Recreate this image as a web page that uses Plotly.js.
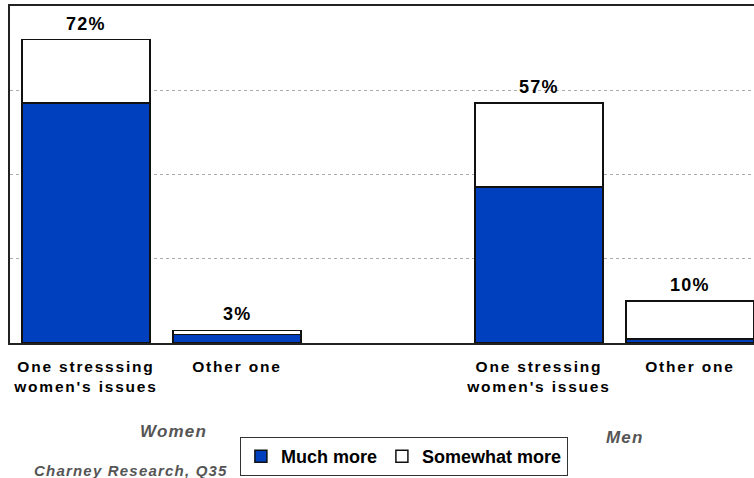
<!DOCTYPE html>
<html>
<head>
<meta charset="utf-8">
<script src="https://cdn.plot.ly/plotly-3.0.1.min.js"></script>
<style>
  html, body { margin: 0; padding: 0; background: #fff; }
  #chart { width: 754px; height: 478px; }
  .xtick text { letter-spacing: 1.8px; }
  .annotation-text { letter-spacing: 1.2px; }
</style>
</head>
<body>
<div id="chart"></div>
<script>
// Slot positions (slot 2 is left empty to separate Women and Men)
const positions = [0, 1, 3, 4];
const categoryLabels = [
  "One stresssing<br>women's issues",
  "Other one",
  "One stressing<br>women's issues",
  "Other one"
];
const muchMore = [57, 2, 37, 1];
const somewhatMore = [15, 1, 20, 9];
const groupLabels = ["Women", "Men"];
const sourceNote = "Charney Research, Q35";

const totals = muchMore.map((v, i) => v + somewhatMore[i]);

const BLUE = "#0040BF";
const FONT = "Liberation Sans, Arial, sans-serif";

const traces = [
  {
    type: "bar",
    name: "Much more",
    x: positions,
    y: muchMore,
    width: 0.85,
    marker: { color: BLUE, line: { color: "#111", width: 1.5 } },
    hoverinfo: "skip"
  },
  {
    type: "bar",
    name: "Somewhat more",
    x: positions,
    y: somewhatMore,
    width: 0.85,
    marker: { color: "#ffffff", line: { color: "#111", width: 1.5 } },
    hoverinfo: "skip"
  }
];

// Total labels above each stack
const annotations = positions.map((p, i) => ({
  x: p, y: totals[i], xref: "x", yref: "y",
  text: "<b>" + totals[i] + "%</b>",
  showarrow: false, yanchor: "bottom", yshift: 4,
  font: { family: FONT, size: 18, color: "#000" }
}));

annotations.push(
  {
    xref: "paper", yref: "paper", x: 0.2204, y: -0.264,
    text: "<b><i>" + groupLabels[0] + "</i></b>",
    showarrow: false, xanchor: "center", yanchor: "middle",
    font: { family: FONT, size: 17, color: "#555" }
  },
  {
    xref: "paper", yref: "paper", x: 0.8266, y: -0.279,
    text: "<b><i>" + groupLabels[1] + "</i></b>",
    showarrow: false, xanchor: "center", yanchor: "middle",
    font: { family: FONT, size: 17, color: "#555" }
  },
  {
    xref: "paper", yref: "paper", x: 0.1626, y: -0.377,
    text: "<b><i>" + sourceNote + "</i></b>",
    showarrow: false, xanchor: "center", yanchor: "middle",
    font: { family: FONT, size: 15, color: "#555" }
  }
);

const layout = {
  width: 754,
  height: 478,
  margin: { l: 10, r: 0, t: 6, b: 135, pad: 0 },
  paper_bgcolor: "#fff",
  plot_bgcolor: "#fff",
  barmode: "stack",
  showlegend: true,
  legend: {
    orientation: "h",
    x: 0.309, y: -0.279,
    xanchor: "left", yanchor: "top",
    traceorder: "normal",
    bordercolor: "#333", borderwidth: 1,
    bgcolor: "#fff",
    font: { family: FONT, size: 18, color: "#000", weight: "bold" },
    itemwidth: 30
  },
  xaxis: {
    range: [-0.503, 4.424],
    tickvals: positions,
    ticktext: categoryLabels,
    tickfont: { family: FONT, size: 15.5, color: "#000", weight: "bold" },
    ticks: "",
    ticklabelstandoff: 8,
    showgrid: false,
    zeroline: false,
    showline: true,
    linecolor: "#222",
    linewidth: 2,
    mirror: true,
    fixedrange: true
  },
  yaxis: {
    range: [0, 80],
    tickvals: [20, 40, 60],
    showticklabels: false,
    ticks: "",
    showgrid: true,
    gridcolor: "#aaa",
    griddash: "dot",
    gridwidth: 1,
    zeroline: false,
    showline: true,
    linecolor: "#222",
    linewidth: 2,
    fixedrange: true
  },
  annotations: annotations
};

Plotly.newPlot("chart", traces, layout, { displayModeBar: false, staticPlot: true });
</script>
</body>
</html>
